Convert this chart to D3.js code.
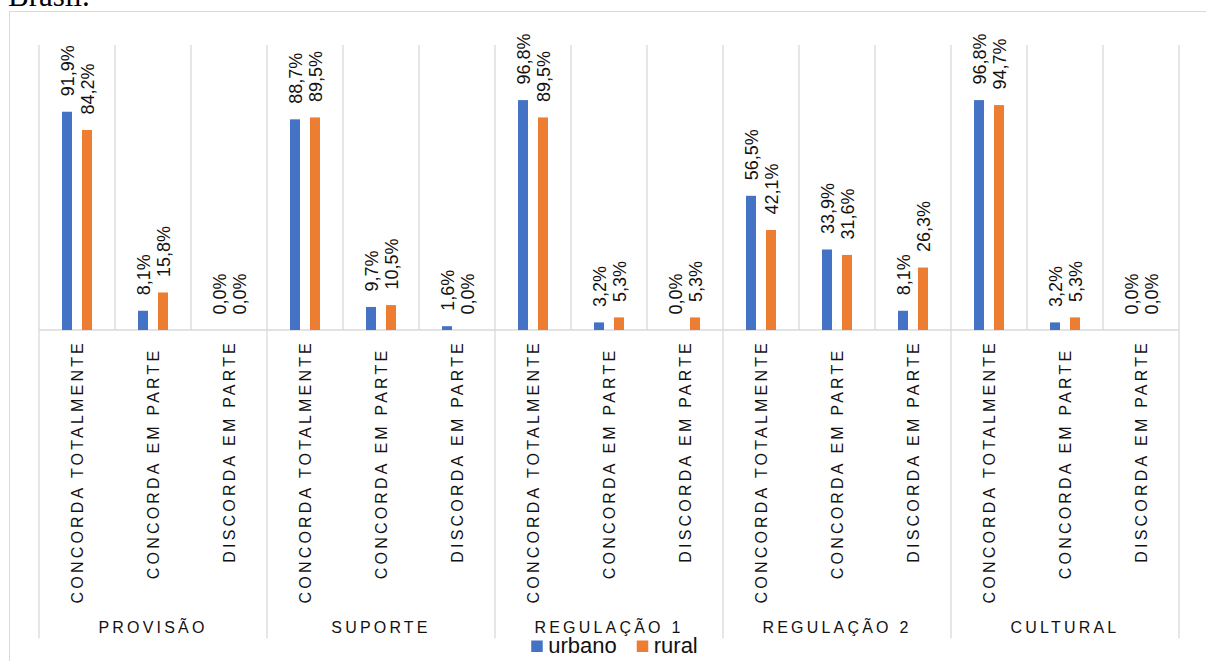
<!DOCTYPE html>
<html>
<head>
<meta charset="utf-8">
<script src="https://cdn.jsdelivr.net/npm/d3@7"></script>
<style>
  html, body { margin: 0; padding: 0; background: #fff; }
  svg { display: block; }
  text { white-space: pre; }
</style>
</head>
<body>
<svg id="chart" width="1206" height="661"></svg>
<script>
// ---- data ----
const title = "Brasil.";
const groups = ["PROVISÃO", "SUPORTE", "REGULAÇÃO 1", "REGULAÇÃO 2", "CULTURAL"];
const answers = ["CONCORDA TOTALMENTE", "CONCORDA EM PARTE ", "DISCORDA EM PARTE"];
const seriesNames = ["urbano", "rural"];
const urbano = [91.9, 8.1, 0.0, 88.7, 9.7, 1.6, 96.8, 3.2, 0.0, 56.5, 33.9, 8.1, 96.8, 3.2, 0.0];
const rural  = [84.2, 15.8, 0.0, 89.5, 10.5, 0.0, 89.5, 5.3, 5.3, 42.1, 31.6, 26.3, 94.7, 5.3, 0.0];
const colors = ["#4472C4", "#ED7D31"];

(function () {
// ---- derived table ----
const rows = [];
groups.forEach((g, gi) => answers.forEach((a, ai) => {
  const i = gi * answers.length + ai;
  rows.push({ id: i, group: g, answer: a, values: [urbano[i] / 100, rural[i] / 100] });
}));

const svg = d3.select("#chart");
const pLeft = 39, pRight = 1179, pTop = 45, pBase = 330;
const FONT = "'Liberation Sans', Arial, sans-serif";
const ink = "#111";

// frame
svg.append("rect").attr("x", 9.5).attr("y", 11.5).attr("width", 1220).attr("height", 700)
  .attr("fill", "none").attr("stroke", "#d9d9d9").attr("stroke-width", 1);

// title (partially cut at top)
svg.append("text").attr("x", 8).attr("y", 6)
  .attr("font-family", "'Liberation Serif', 'Times New Roman', serif")
  .attr("font-size", 31).attr("fill", "#000").text(title);

const x = d3.scaleBand().domain(rows.map(d => d.id)).range([pLeft, pRight]).padding(0);
const xs = d3.scaleBand().domain(seriesNames).range([0, x.bandwidth()])
  .paddingInner(0.5).paddingOuter(1.15);
const y = d3.scaleLinear().domain([0, 1.2]).range([pBase, pTop]);

const grid = "#d9d9d9";
// vertical gridlines at category boundaries
const bounds = d3.range(rows.length + 1).map(i => pLeft + i * x.step());
svg.append("g").selectAll("line").data(bounds).join("line")
  .attr("x1", d => d).attr("x2", d => d)
  .attr("y1", pTop).attr("y2", pBase)
  .attr("stroke", grid).attr("stroke-width", 1.3);

// group separators in label area
const gBounds = d3.range(groups.length + 1).map(i => pLeft + i * answers.length * x.step());
svg.append("g").selectAll("line").data(gBounds).join("line")
  .attr("x1", d => d).attr("x2", d => d)
  .attr("y1", pBase).attr("y2", 638.5)
  .attr("stroke", grid).attr("stroke-width", 1.3);

// axis line
svg.append("line").attr("x1", pLeft).attr("x2", pRight).attr("y1", pBase).attr("y2", pBase)
  .attr("stroke", grid).attr("stroke-width", 1.3);

// bars
const fmt = d3.formatLocale({ decimal: ",", thousands: ".", grouping: [3], currency: ["R$", ""] }).format(".1%");
const cat = svg.append("g").selectAll("g").data(rows).join("g")
  .attr("transform", d => `translate(${x(d.id)},0)`);

cat.selectAll("rect").data(d => d.values.map((v, k) => ({ v, k })))
  .join("rect")
  .attr("x", d => xs(seriesNames[d.k]))
  .attr("width", xs.bandwidth())
  .attr("y", d => y(d.v))
  .attr("height", d => Math.max(0, pBase - y(d.v)))
  .attr("fill", d => colors[d.k]);

// data labels
cat.selectAll("text.lbl").data(d => d.values.map((v, k) => ({ v, k })))
  .join("text").attr("class", "lbl")
  .attr("transform", d => `translate(${xs(seriesNames[d.k]) + xs.bandwidth() / 2},${y(d.v) - 15.5}) rotate(-90)`)
  .attr("dy", "0.38em")
  .attr("text-anchor", "start")
  .attr("font-family", FONT).attr("font-size", 18).attr("fill", ink)
  .text(d => fmt(d.v));

// category labels
svg.append("g").selectAll("text").data(rows).join("text")
  .attr("transform", d => `translate(${x(d.id) + x.bandwidth() / 2},${340}) rotate(-90)`)
  .attr("dy", "0.35em")
  .attr("text-anchor", "end")
  .attr("font-family", FONT).attr("font-size", 16).attr("letter-spacing", 3.2)
  .attr("fill", ink)
  .text(d => d.answer);

// group labels
svg.append("g").selectAll("text").data(groups).join("text")
  .attr("x", (d, i) => (gBounds[i] + gBounds[i + 1]) / 2)
  .attr("y", 633)
  .attr("text-anchor", "middle")
  .attr("font-family", FONT).attr("font-size", 16).attr("letter-spacing", 3.2)
  .attr("fill", ink)
  .text(d => d);

// legend
const leg = svg.append("g");
let cx = 0;
seriesNames.forEach((n, k) => {
  const g = leg.append("g");
  g.append("rect").attr("x", 0).attr("y", -12).attr("width", 11.5).attr("height", 11.5).attr("fill", colors[k]);
  const t = g.append("text").attr("x", 17).attr("y", 0)
    .attr("font-family", FONT).attr("font-size", 22).attr("fill", ink).text(n);
  const w = 17 + t.node().getComputedTextLength();
  g.attr("transform", `translate(${cx},0)`);
  cx += w + 20;
});
const totalW = cx - 20;
leg.attr("transform", `translate(${614.5 - totalW / 2},652.5)`);
})();
</script>
</body>
</html>
